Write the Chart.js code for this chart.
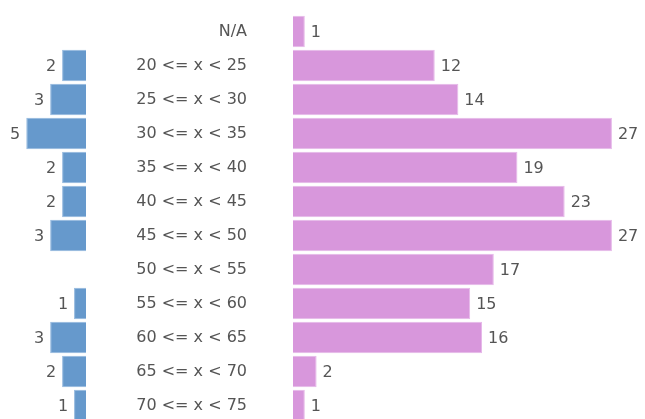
<!DOCTYPE html>
<html>
<head>
<meta charset="utf-8">
<script src="https://cdn.jsdelivr.net/npm/chart.js@4"></script>
<style>
    html, body { margin: 0; padding: 0; background: #fff; overflow: hidden; }
    .wrap { position: absolute; left: 0; top: 0; width: 645px; height: 423px; }
</style>
</head>
<body>
<div class="wrap"><canvas id="leftChart"></canvas></div>
<div class="wrap"><canvas id="rightChart"></canvas></div>
<script>
const categories = ['N/A', '20 <= x < 25', '25 <= x < 30', '30 <= x < 35', '35 <= x < 40',
    '40 <= x < 45', '45 <= x < 50', '50 <= x < 55', '55 <= x < 60', '60 <= x < 65',
    '65 <= x < 70', '70 <= x < 75'];
const leftValues = [null, 2, 3, 5, 2, 2, 3, null, 1, 3, 2, 1];
const rightValues = [1, 12, 14, 27, 19, 23, 27, 17, 15, 16, 2, 1];

const font = { family: 'DejaVu Sans', size: 16 };
const textColor = '#555';

// draws the numbers next to the bar ends
const valueLabels = {
    id: 'valueLabels',
    afterDatasetsDraw(chart) {
        const ctx = chart.ctx;
        const left = chart.options.plugins.valueLabels.side === 'left';
        ctx.save();
        ctx.font = font.size + 'px ' + font.family;
        ctx.fillStyle = textColor;
        ctx.textBaseline = 'middle';
        ctx.textAlign = left ? 'right' : 'left';
        chart.getDatasetMeta(0).data.forEach((bar, i) => {
            const v = chart.data.datasets[0].data[i];
            if (v == null) return;
            ctx.fillText(v, bar.x + (left ? -6 : 6), bar.y + 1);
        });
        ctx.restore();
    }
};

const common = {
    indexAxis: 'y',
    responsive: true,
    maintainAspectRatio: false,
    animation: false,
    events: [],
    plugins: { legend: { display: false }, tooltip: { enabled: false } }
};

new Chart(document.getElementById('leftChart'), {
    type: 'bar',
    data: {
        labels: categories,
        datasets: [{
            data: leftValues,
            backgroundColor: '#6699cc',
            borderColor: '#93b8de',
            borderWidth: 1,
            barPercentage: 0.93,
            categoryPercentage: 1
        }]
    },
    options: {
        ...common,
        layout: { padding: { left: 0, right: 559, top: 14.5, bottom: 0.5 } },
        plugins: { ...common.plugins, valueLabels: { side: 'left' } },
        scales: {
            x: { reverse: true, min: 0, max: 7.2, display: false },
            y: { display: false }
        }
    },
    plugins: [valueLabels]
});

new Chart(document.getElementById('rightChart'), {
    type: 'bar',
    data: {
        labels: categories,
        datasets: [{
            data: rightValues,
            backgroundColor: '#d897dc',
            borderColor: '#e6b8e9',
            borderWidth: 1,
            barPercentage: 0.93,
            categoryPercentage: 1
        }]
    },
    options: {
        ...common,
        layout: { padding: { left: 0, right: 0, top: 14.5, bottom: 0.5 } },
        plugins: { ...common.plugins, valueLabels: { side: 'right' } },
        scales: {
            x: { min: 0, max: 29.8, display: false },
            y: {
                grid: { display: false, drawTicks: false },
                border: { display: false },
                ticks: { color: textColor, font: font, padding: 46 },
                afterFit(scale) {
                    scale.width = 293;
                    scale.paddingTop = 0;
                    scale.paddingBottom = 0;
                }
            }
        }
    },
    plugins: [valueLabels]
});
</script>
</body>
</html>
